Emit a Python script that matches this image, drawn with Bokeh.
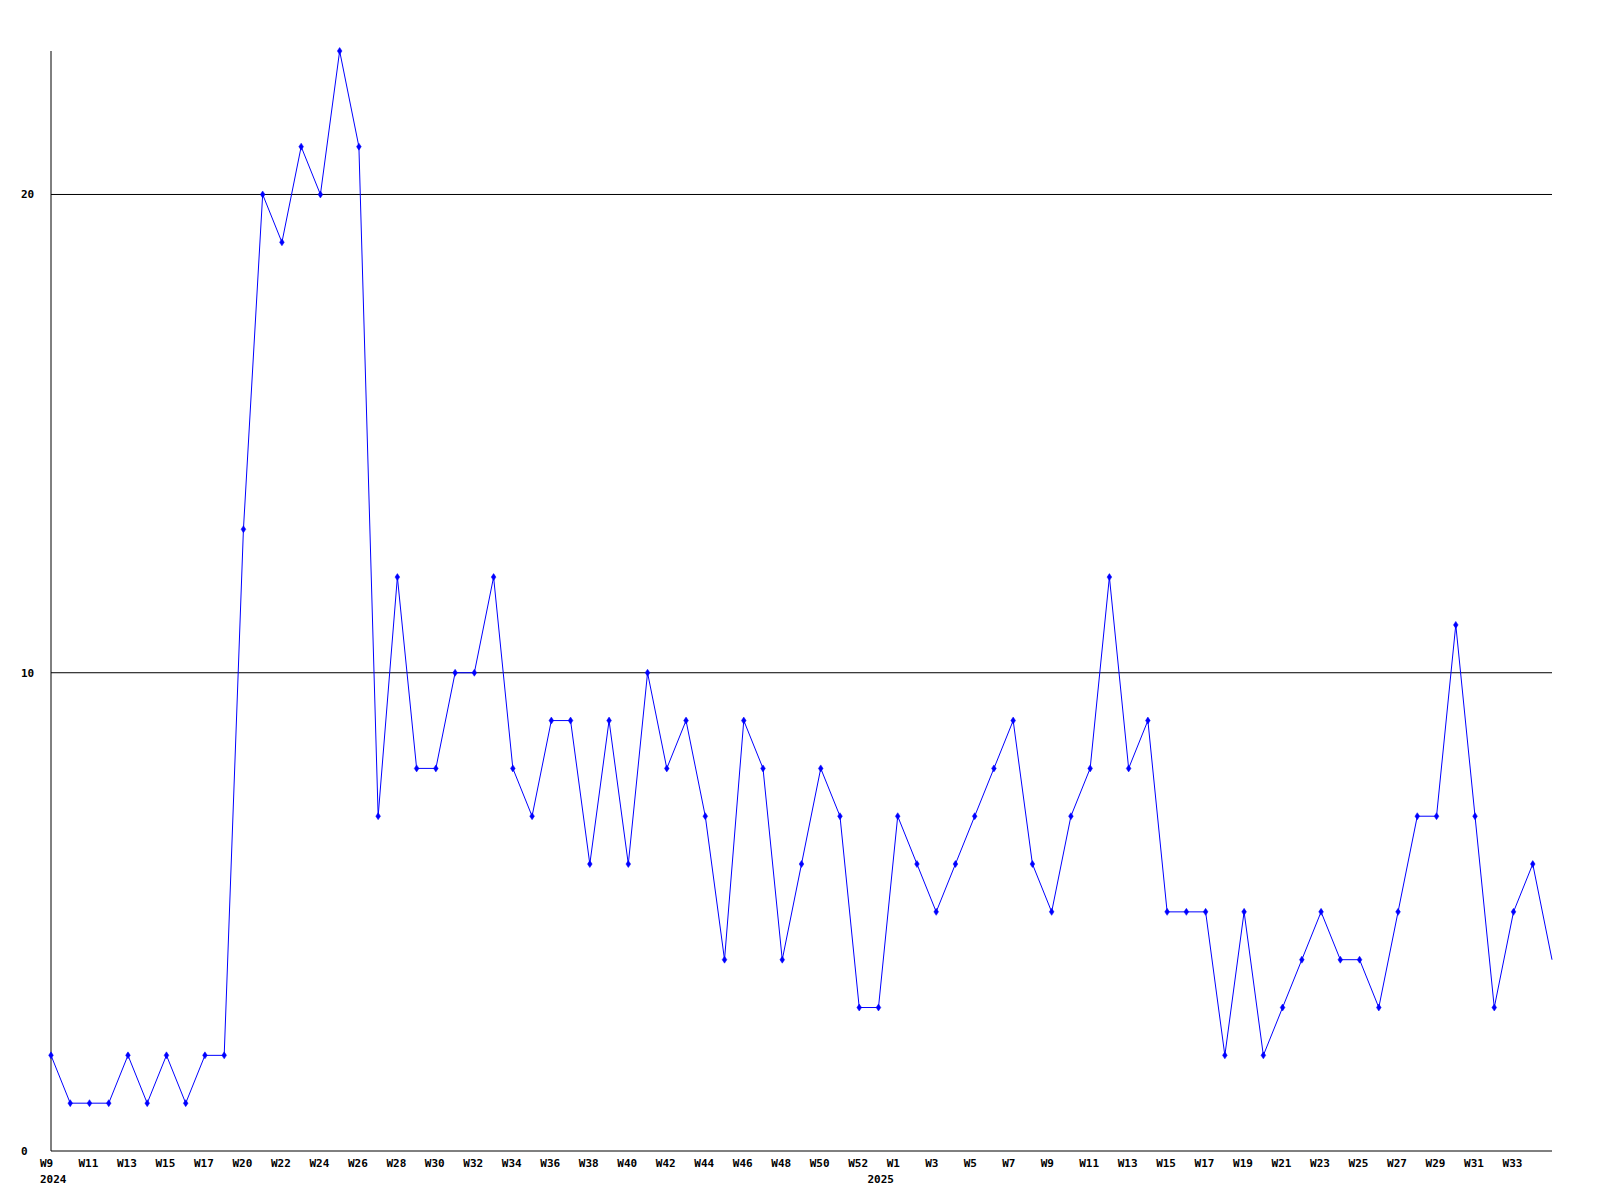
from bokeh.plotting import figure
from bokeh.models import ColumnDataSource, Range1d
from bokeh.core.properties import value
from bokeh.embed import file_html
from bokeh.resources import INLINE

weeks = ["W9", "W10", "W11", "W12", "W13", "W14", "W15", "W16", "W17", "W19",
         "W20", "W21", "W22", "W23", "W24", "W25", "W26", "W27", "W28", "W29",
         "W30", "W31", "W32", "W33", "W34", "W35", "W36", "W37", "W38", "W39",
         "W40", "W41", "W42", "W43", "W44", "W45", "W46", "W47", "W48", "W49",
         "W50", "W51", "W52", "W53", "W1", "W2", "W3", "W4", "W5", "W6",
         "W7", "W8", "W9", "W10", "W11", "W12", "W13", "W14", "W15", "W16",
         "W17", "W18", "W19", "W20", "W21", "W22", "W23", "W24", "W25", "W26",
         "W27", "W28", "W29", "W30", "W31", "W32", "W33", "W34", "W35"]
values = [2, 1, 1, 1, 2, 1, 2, 1, 2, 2,
          13, 20, 19, 21, 20, 23, 21, 7, 12, 8,
          8, 10, 10, 12, 8, 7, 9, 9, 6, 9,
          6, 10, 8, 9, 7, 4, 9, 8, 4, 6,
          8, 7, 3, 3, 7, 6, 5, 6, 7, 8,
          9, 6, 5, 7, 8, 12, 8, 9, 5, 5,
          5, 2, 5, 2, 3, 4, 5, 4, 4, 3,
          5, 7, 7, 11, 7, 3, 5, 6, 4]
year_labels = ["2024", "2025"]
year_index = [0, 43]
y_ticks = [0, 10, 20]
grid_ticks = [10, 20]

W, H = 1584, 1184
left, top, fw, fh = 50.5, 50.5, 1501, 1100

n = len(values)
xmax = n - 1
ymax = max(values)
dx = fw / xmax
dy = fh / ymax

p = figure(width=W, height=H, output_backend="svg", toolbar_location=None,
           min_border=0, min_border_left=0, min_border_right=0,
           min_border_top=0, min_border_bottom=0)
p.x_range = Range1d(-left / dx, (W - left) / dx)
p.y_range = Range1d(-(H - top - fh) / dy, ymax + top / dy)
p.axis.visible = False
p.grid.visible = False
p.outline_line_color = None
p.background_fill_color = "white"
p.border_fill_color = "white"

# gridlines
p.segment(x0=[0] * len(grid_ticks), y0=grid_ticks, x1=[xmax] * len(grid_ticks),
          y1=grid_ticks, line_color="black", line_width=1)
# axes
p.segment(x0=[0, 0], y0=[0, 0], x1=[0, xmax], y1=[ymax, 0],
          line_color="black", line_width=1)

idx = list(range(n))
src = ColumnDataSource(dict(x=idx, y=values))
p.line("x", "y", source=src, line_color="#0000ff", line_width=1)
msrc = ColumnDataSource(dict(x=idx[:-1], y=values[:-1]))
p.scatter("x", "y", source=msrc, marker="diamond", size=7, fill_color="#0000ff",
          line_color="#0000ff", line_width=0.5)

font = value("DejaVu Sans Mono")

lab_x = [i for i in idx if i % 2 == 0 and i < xmax]
lab_t = [weeks[i] for i in lab_x]
p.text(x=lab_x, y=[-12 / dy] * len(lab_x), text=lab_t, x_offset=-11,
       text_align="left", text_baseline="middle", text_font=font,
       text_font_style="bold", text_font_size="11px", text_color="black")

p.text(x=year_index, y=[-27.5 / dy] * len(year_index), text=year_labels, x_offset=-11,
       text_align="left", text_baseline="middle", text_font=font,
       text_font_style="bold", text_font_size="11px", text_color="black")

p.text(x=[-30 / dx] * len(y_ticks), y=y_ticks, text=[str(v) for v in y_ticks],
       text_align="left", text_baseline="middle", text_font=font,
       text_font_style="bold", text_font_size="11px", text_color="black")

open("out.html", "w").write(file_html(p, INLINE))
